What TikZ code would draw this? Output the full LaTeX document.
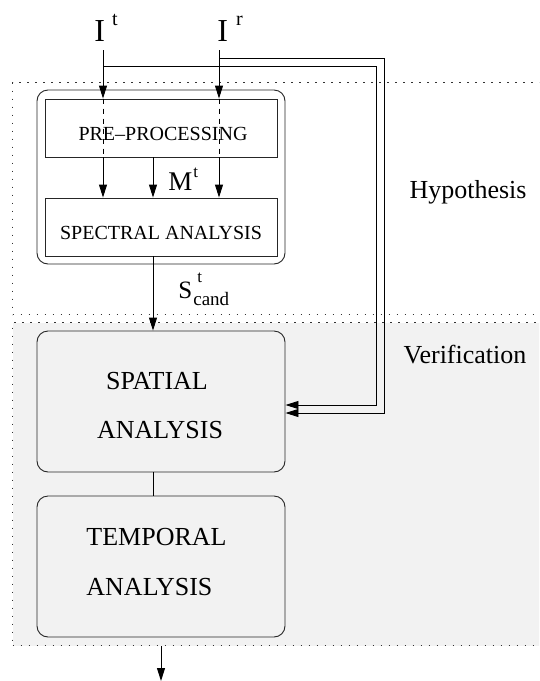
\documentclass[tikz,border=0pt]{standalone}
\usepackage{fontspec}
\setmainfont{Liberation Serif}
\usetikzlibrary{arrows.meta}
\definecolor{panelgrey}{RGB}{242,242,242}
\begin{document}
\begin{tikzpicture}[x=1pt,y=-1pt,
  line width=0.9pt,
  region/.style={draw=black!80, line width=1.1pt, dash pattern=on 1.1pt off 6.9pt,
    inner sep=0pt, anchor=north west, minimum width=560pt},
  groupbox/.style={draw=black!85, rounded corners=11pt, inner sep=0pt},
  plainbox/.style={draw=black!85, inner sep=0pt, minimum width=232pt, minimum height=58pt},
  stagebox/.style={draw=black!85, fill=panelgrey, rounded corners=11pt, inner sep=0pt,
    minimum width=248pt, minimum height=141pt},
  smalltext/.style={inner sep=0pt, font=\fontsize{20}{20}\selectfont},
  bigtext/.style={inner sep=0pt, font=\fontsize{26}{26}\selectfont},
  arr/.style={-{Triangle[length=13pt,width=8pt]}},
  thru/.style={dash pattern=on 5pt off 5pt}
]
\useasboundingbox (0,0) rectangle (539,681);
\clip (0,0) rectangle (539,681);

% hypothesis and verification panels
\node[region, fill=white, minimum height=232pt] (hyp) at (12,82) {};
\node[region, fill=panelgrey, minimum height=323pt] (ver) at (12,322) {};
\node[bigtext] (hyplabel) at (468,192) {Hypothesis};
\node[bigtext] (verlabel) at (465,355) {Verification};

% hypothesis stage
\node[groupbox, minimum width=248pt, minimum height=174pt] (grp) at (161,177) {};
\node[plainbox] (pre) at (161,128) {};
\node[smalltext] (pretxt) at (163,134) {PRE–PROCESSING};
\node[plainbox] (spec) at (161,227) {};
\node[smalltext] (spectxt) at (161,233) {SPECTRAL ANALYSIS};

% verification stages
\node[stagebox] (spat) at (161,401.5) {};
\node[bigtext] (spattxt1) at (157,381) {SPATIAL};
\node[bigtext] (spattxt2) at (160,430) {ANALYSIS};
\node[stagebox] (temp) at (161,566.5) {};
\node[bigtext, anchor=west] (temptxt1) at (86,537) {TEMPORAL};
\node[bigtext, anchor=west] (temptxt2) at (86,587) {ANALYSIS};

% inputs
\node[anchor=base west, inner sep=0pt] (It) at (94,41)
  {\fontsize{32}{32}\selectfont I\hspace{7pt}\raisebox{16pt}{\fontsize{20}{20}\selectfont t}};
\node[anchor=base west, inner sep=0pt] (Ir) at (217,41)
  {\fontsize{32}{32}\selectfont I\hspace{8pt}\raisebox{16pt}{\fontsize{20}{20}\selectfont r}};
\coordinate (ct) at (103,50);
\coordinate (cr) at (219,50);
\coordinate (cm) at (153,0);

% image paths through the hypothesis stage
\draw[arr] (ct) -- (ct |- pre.north);
\draw[thru] (ct |- pre.north) -- (ct |- pre.south);
\draw[arr] (ct |- pre.south) -- (ct |- spec.north);
\draw[arr] (cr) -- (cr |- pre.north);
\draw[thru] (cr |- pre.north) -- (cr |- pre.south);
\draw[arr] (cr |- pre.south) -- (cr |- spec.north);
\draw[arr] (cm |- pre.south) -- (cm |- spec.north);
\node[anchor=base west, inner sep=0pt] (Mt) at (168,190)
  {\fontsize{27}{27}\selectfont M\hspace{1pt}\raisebox{13pt}{\fontsize{17}{17}\selectfont t}};

% candidates to spatial analysis
\draw[arr] (cm |- spec.south) -- (cm |- spat.north);
\node[anchor=base west, inner sep=0pt] (Sc) at (178,298)
  {\fontsize{25}{25}\selectfont S\hspace{1pt}\rlap{\raisebox{16pt}{\hspace{4pt}\fontsize{17}{17}\selectfont t}}\raisebox{-7pt}{\fontsize{19}{19}\selectfont cand}};

% original images fed to the spatial analysis
\coordinate (bt0) at (103,66);
\coordinate (bt1) at (376,66);
\coordinate (bt2) at (376,405);
\coordinate (br0) at (219,58);
\coordinate (br1) at (384,58);
\coordinate (br2) at (384,413);
\draw[arr] (bt0) -- (bt1) -- (bt2) -- (spat.east |- bt2);
\draw[arr] (br0) -- (br1) -- (br2) -- (spat.east |- br2);

% spatial to temporal, and the output
\draw (cm |- spat.south) -- (cm |- temp.north);
\coordinate (out) at (161,681);
\draw[arr] (out |- ver.south) -- (out);
\end{tikzpicture}
\end{document}
